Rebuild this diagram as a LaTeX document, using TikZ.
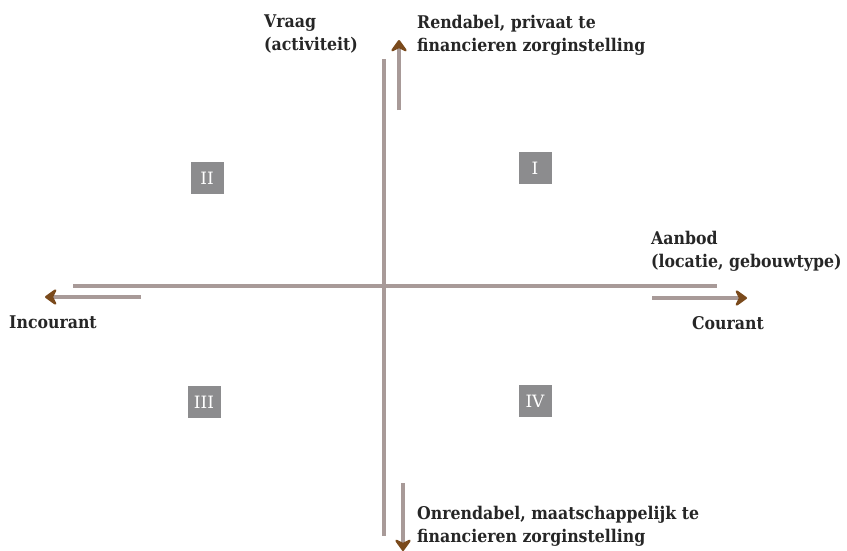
\documentclass[tikz,border=0pt]{standalone}
\usepackage{fontspec}
\setmainfont{DejaVu Serif}
\newfontfamily\condserif{DejaVu Serif Condensed}
\usetikzlibrary{arrows.meta}

\definecolor{axisgrey}{HTML}{A89A98}
\definecolor{tipbrown}{HTML}{7A4A1C}
\definecolor{boxgrey}{HTML}{8C8C8E}

\tikzset{
  axis/.style={draw=axisgrey, line width=4.5pt},
  dirarrow/.style={draw=axisgrey, line width=3.5pt,
    -{Stealth[color=tipbrown, length=14pt, width=20pt, inset=5pt, round]}},
  quadrant/.style={fill=boxgrey, text=white, minimum width=33pt,
    minimum height=32pt, inner sep=0pt, font=\fontsize{17}{19}\selectfont},
  label/.style={align=left, anchor=north west, inner sep=0pt,
    font=\condserif\bfseries\fontsize{17.5}{23}\selectfont, text=black!85}
}

\begin{document}
\begin{tikzpicture}[x=1pt, y=-1pt]

  % Canvas
  \useasboundingbox (0,0) rectangle (847,550);

  % End points of the two axes
  \coordinate (vtop) at (384,59);
  \coordinate (vbot) at (384,536);
  \coordinate (hleft) at (73,286);
  \coordinate (hright) at (717,286);

  % Axes
  \draw[axis] (vtop) -- (vbot);
  \draw[axis] (hleft) -- (hright);

  % Direction arrows
  \coordinate (upstart) at (399,110);
  \coordinate (uptip) at (399,40);
  \coordinate (downstart) at (403,483);
  \coordinate (downtip) at (403,551);
  \coordinate (leftstart) at (141,297);
  \coordinate (lefttip) at (45,297);
  \coordinate (rightstart) at (652,298);
  \coordinate (righttip) at (747,298);
  \draw[dirarrow] (upstart) -- (uptip);
  \draw[dirarrow] (downstart) -- (downtip);
  \draw[dirarrow] (leftstart) -- (lefttip);
  \draw[dirarrow] (rightstart) -- (righttip);

  % Quadrant numbers
  \node[quadrant] (q1) at (535,168) {I};
  \node[quadrant] (q2) at (207,178) {II};
  \node[quadrant] (q3) at (204,402) {III};
  \node[quadrant] (q4) at (535,401) {IV};

  % Axis labels
  \node[label] (vraag) at (264,15) {Vraag\\(activiteit)};
  \node[label] (rendabel) at (417,15) {Rendabel, privaat te\\financieren zorginstelling};
  \node[label] (aanbod) at (651,231) {Aanbod\\(locatie, gebouwtype)};
  \node[label] (incourant) at (9,316) {Incourant};
  \node[label] (courant) at (692,316) {Courant};
  \node[label] (onrendabel) at (417,506) {Onrendabel, maatschappelijk te\\financieren zorginstelling};

\end{tikzpicture}
\end{document}
